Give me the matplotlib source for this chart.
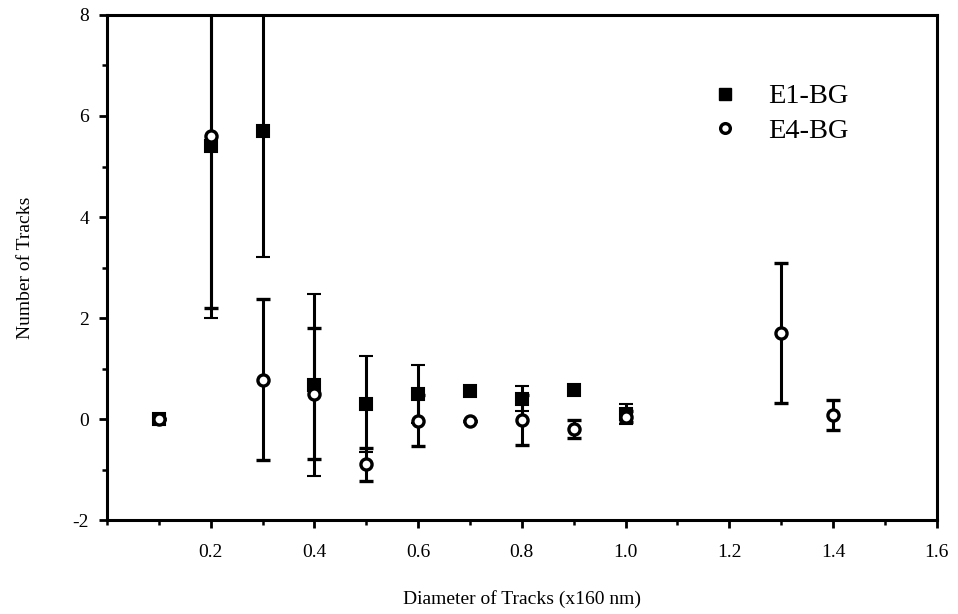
import matplotlib
matplotlib.use("Agg")
import matplotlib.pyplot as plt
from matplotlib.ticker import MultipleLocator, FixedLocator
from matplotlib.lines import Line2D

# Data
x_e1 = [0.1, 0.2, 0.3, 0.4, 0.5, 0.6, 0.7, 0.8, 0.9, 1.0]
y_e1 = [0.0, 5.4, 5.7, 0.67, 0.3, 0.5, 0.55, 0.4, 0.57, 0.1]
err_e1 = [0.0, 3.4, 2.5, 1.8, 0.95, 0.57, 0.08, 0.25, 0.05, 0.2]

x_e4 = [0.1, 0.2, 0.3, 0.4, 0.5, 0.6, 0.7, 0.8, 0.9, 1.0, 1.3, 1.4]
y_e4 = [0.0, 5.6, 0.78, 0.5, -0.9, -0.03, -0.03, -0.02, -0.2, 0.05, 1.7, 0.08]
err_e4 = [0.0, 3.4, 1.6, 1.3, 0.33, 0.5, 0.0, 0.5, 0.18, 0.1, 1.39, 0.3]

x_ticks = [0.2, 0.4, 0.6, 0.8, 1.0, 1.2, 1.4, 1.6]
x_ticklabels = ["0.2", "0.4", "0.6", "0.8", "1.0", "1.2", "1.4", "1.6"]
y_ticks = [-2, 0, 2, 4, 6, 8]
y_ticklabels = ["-2", "0", "2", "4", "6", "8"]

plt.rcParams['font.family'] = ['Liberation Serif', 'DejaVu Serif']

fig = plt.figure(figsize=(9.58, 6.14), dpi=100)
ax = fig.add_axes([0.1117, 0.153, 0.866, 0.8226])

ax.errorbar(x_e1, y_e1, yerr=err_e1, fmt='s', color='black', ecolor='black',
            markersize=8, elinewidth=2.2, capsize=5, capthick=2.2,
            markeredgewidth=1.5, zorder=3)
ax.errorbar(x_e4, y_e4, yerr=err_e4, fmt='o', color='black', ecolor='black',
            markerfacecolor='white', markeredgecolor='black',
            markersize=8, elinewidth=2.2, capsize=5, capthick=2.2,
            markeredgewidth=2.4, zorder=4)

ax.set_xlim(0, 1.6)
ax.set_ylim(-2, 8)
ax.xaxis.set_major_locator(FixedLocator(x_ticks))
ax.set_xticklabels(x_ticklabels)
ax.xaxis.set_minor_locator(MultipleLocator(0.1))
ax.yaxis.set_major_locator(FixedLocator(y_ticks))
ax.set_yticklabels(y_ticklabels)
ax.yaxis.set_minor_locator(MultipleLocator(1))

for s in ax.spines.values():
    s.set_linewidth(2.2)

ax.tick_params(which='major', direction='out', length=6, width=2, labelsize=14)
ax.tick_params(axis='x', which='major', pad=11)
ax.tick_params(axis='y', which='major', pad=7)
ax.tick_params(which='minor', direction='out', length=3.5, width=1.8)

ax.set_xlabel('Diameter of Tracks (x160 nm)', fontsize=14, labelpad=21)
ax.set_ylabel('Number of Tracks', fontsize=14, labelpad=28)

handles = [
    Line2D([], [], marker='s', linestyle='none', color='black', markersize=8),
    Line2D([], [], marker='o', linestyle='none', markerfacecolor='white',
           markeredgecolor='black', markeredgewidth=2.4, markersize=7),
]
ax.legend(handles, ['E1-BG', 'E4-BG'], loc='upper left',
          bbox_to_anchor=(0.697, 0.915), frameon=False,
          fontsize=20.5, handletextpad=1.0, labelspacing=0.3,
          handlelength=1.0)

fig.savefig('out.png', dpi=100)
